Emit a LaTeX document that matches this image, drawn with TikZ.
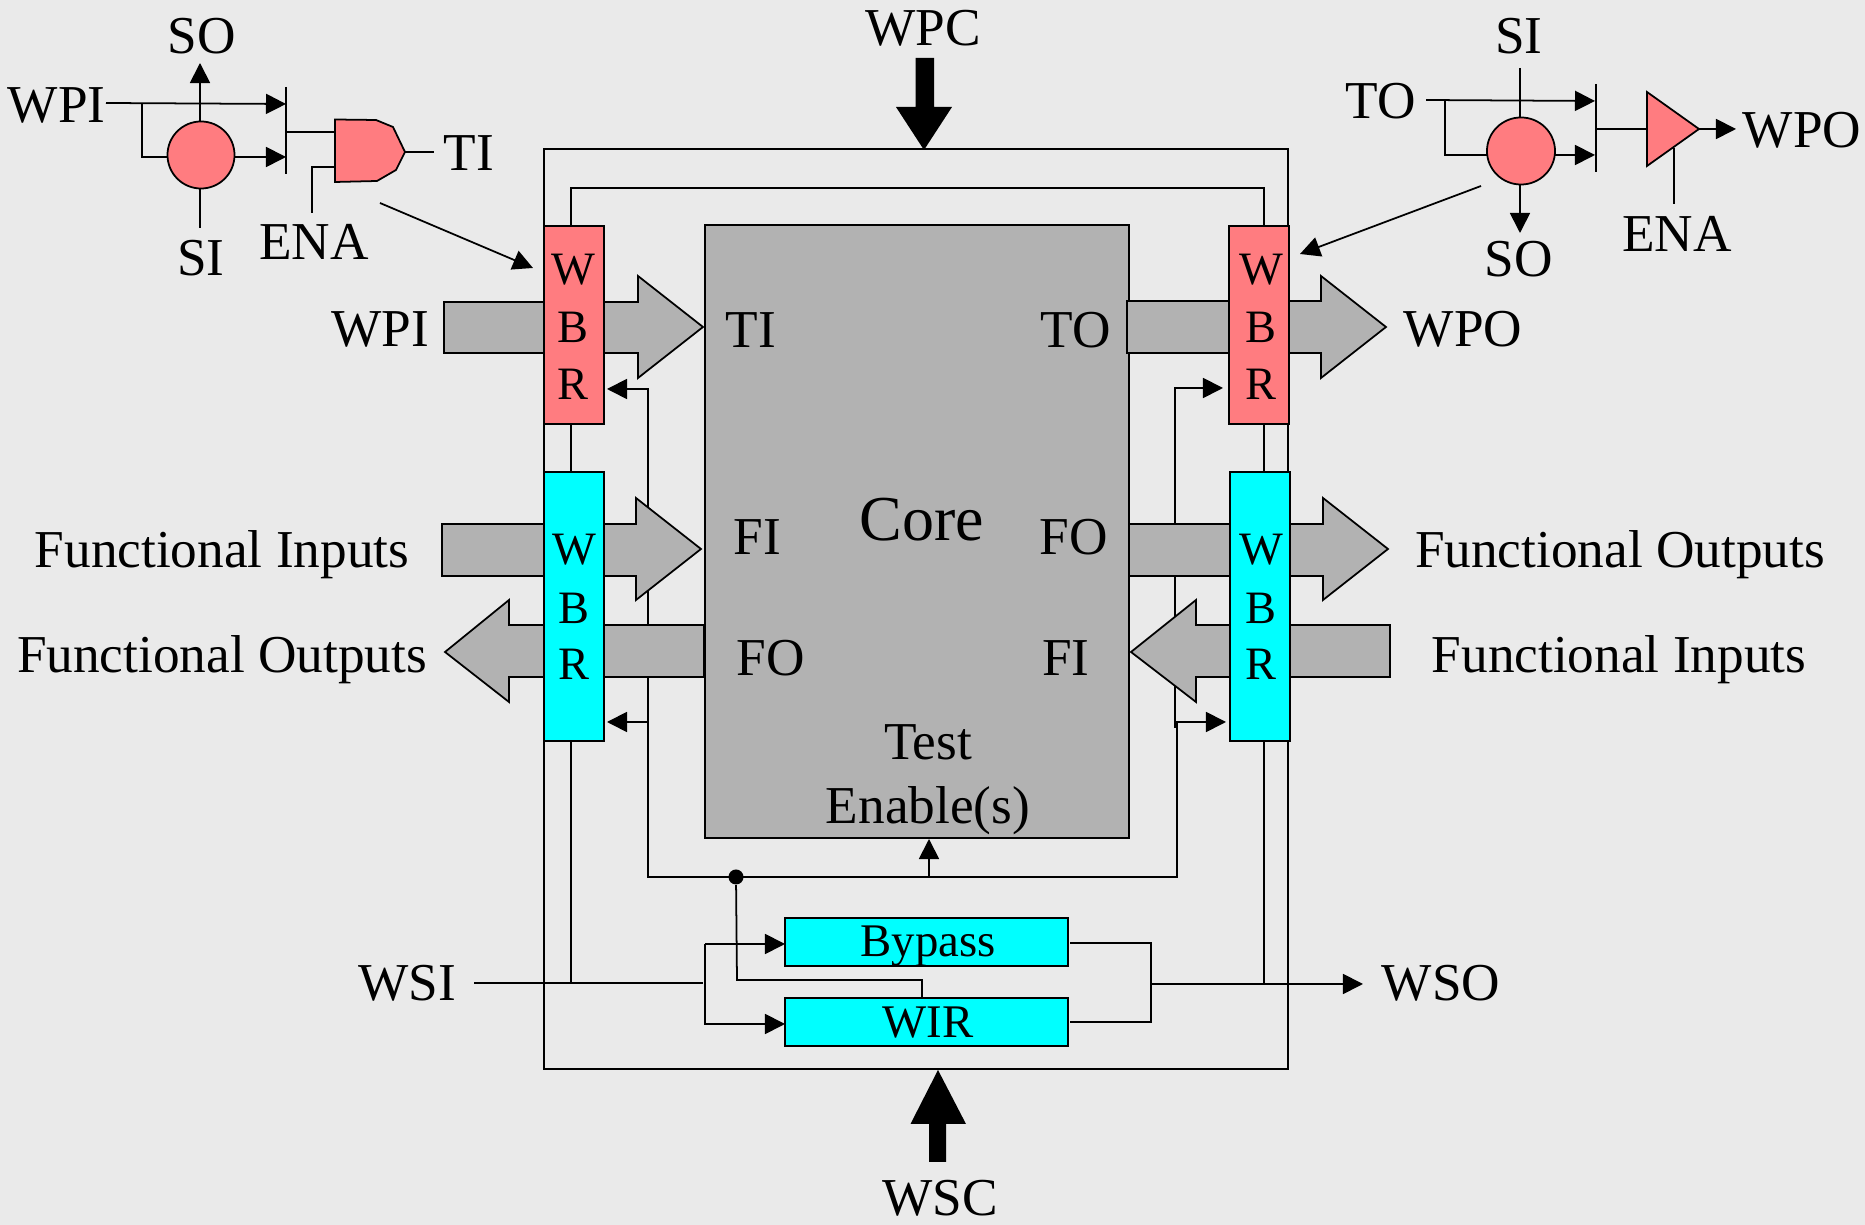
\documentclass[tikz,border=0pt]{standalone}
\usepackage{fontspec}
\setmainfont{Liberation Serif}
\usetikzlibrary{arrows.meta,shapes.geometric}
\definecolor{bgc}{HTML}{EAEAEA}
\definecolor{pinkc}{HTML}{FF7C80}
\definecolor{cyanc}{HTML}{00FFFF}
\definecolor{greyc}{HTML}{B2B2B2}
\tikzset{
  wire/.style={draw=black,line width=0.5pt,line join=miter},
  sig/.style={wire,-{Triangle[length=0.2cm,width=0.2cm]}},
  blockarrow/.style={draw=black,line width=0.5pt,fill=greyc,line join=miter},
  fatarrow/.style={fill=black,draw=none},
  gatefill/.style={draw=black,line width=0.5pt,fill=pinkc,line join=round},
  txt/.style={inner sep=0pt,outer sep=0pt,anchor=base,font=\fontsize{15.15}{18}\selectfont},
  boxn/.style={draw=black,line width=0.6pt,inner sep=0pt,outer sep=0pt,anchor=north west},
  wbrlabel/.style={txt,font=\fontsize{13.2}{16}\selectfont},
  wbr/.style={boxn,minimum width=0.6cm},
  smallbox/.style={boxn,fill=cyanc,minimum width=2.83cm,minimum height=0.48cm},
  dotn/.style={circle,fill=black,inner sep=0pt,minimum size=0.15cm}
}
\begin{document}
\begin{tikzpicture}[x=0.01cm,y=-0.01cm]
\useasboundingbox[fill=bgc] (0,0) rectangle (1865,1225);

% ---- wrapper frame and rails
\coordinate (ftl) at (544,149); \coordinate (fbr) at (1288,1069);
\draw[wire] (ftl) rectangle (fbr);
\coordinate (railLtop) at (571,188); \coordinate (railRtop) at (1264,188);
\coordinate (railLbot) at (571,983); \coordinate (railRbot) at (1264,984);
\draw[wire] (571,240) -- (railLtop) -- (railRtop) -- (1264,240);
\draw[wire] (571,420) -- (railLbot);
\draw[wire] (1264,420) -- (railRbot);

% ---- core
\node[boxn,fill=greyc,minimum width=4.24cm,minimum height=6.13cm] (core) at (705,225) {};

% ---- test enable distribution
\coordinate (tL) at (648,877); \coordinate (tR) at (1177,877);
\coordinate (wL1) at (648,389); \coordinate (wL1b) at (648,730);
\coordinate (wL2) at (648,722);
\coordinate (wR1) at (1175,388); \coordinate (wR1b) at (1175,728);
\coordinate (wR2) at (1177,722);
\coordinate (aL1) at (607,389); \coordinate (aL2) at (607,722);
\coordinate (aR1) at (1223,388); \coordinate (aR2) at (1226,722);
\draw[sig] (wL1b) -- (wL1) -- (aL1);
\draw[sig] (tR) -- (tL) -- (wL2) -- (aL2);
\draw[sig] (wR1b) -- (wR1) -- (aR1);
\draw[sig] (tL) -- (tR) -- (wR2) -- (aR2);
\coordinate (teB) at (929,877); \coordinate (teT) at (929,839);
\draw[sig] (teB) -- (teT);

% ---- grey block arrows
\path[blockarrow] (444,302) -- (638,302) -- (638,276) -- (703,327) -- (638,378) -- (638,353) -- (444,353) -- cycle;
\path[blockarrow] (442,524) -- (636,524) -- (636,498) -- (701,549) -- (636,600) -- (636,576) -- (442,576) -- cycle;
\path[blockarrow] (704,625) -- (509,625) -- (509,600) -- (445,652) -- (509,702) -- (509,677) -- (704,677) -- cycle;
\path[blockarrow] (1127,301) -- (1321,301) -- (1321,276) -- (1386,327) -- (1321,378) -- (1321,353) -- (1127,353) -- cycle;
\path[blockarrow] (1129,524) -- (1323,524) -- (1323,498) -- (1388,549) -- (1323,600) -- (1323,576) -- (1129,576) -- cycle;
\path[blockarrow] (1390,625) -- (1196,625) -- (1196,600) -- (1131,652) -- (1196,702) -- (1196,677) -- (1390,677) -- cycle;

% ---- boundary registers
\node[wbr,fill=pinkc,minimum height=1.98cm] (wbrA) at (544,226) {};
\node[wbr,fill=pinkc,minimum height=1.98cm] (wbrB) at (1229,226) {};
\node[wbr,fill=cyanc,minimum height=2.69cm] (wbrC) at (544,472) {};
\node[wbr,fill=cyanc,minimum height=2.69cm] (wbrD) at (1230,472) {};
\node[wbrlabel] (a1) at (573,285) {W};
\node[wbrlabel] (a2) at (573,343) {B};
\node[wbrlabel] (a3) at (573,400) {R};
\node[wbrlabel] (b1) at (1261,285) {W};
\node[wbrlabel] (b2) at (1261,343) {B};
\node[wbrlabel] (b3) at (1261,400) {R};
\node[wbrlabel] (c1l) at (574,565) {W};
\node[wbrlabel] (c2l) at (574,624) {B};
\node[wbrlabel] (c3l) at (574,680) {R};
\node[wbrlabel] (d1) at (1261,565) {W};
\node[wbrlabel] (d2) at (1261,624) {B};
\node[wbrlabel] (d3) at (1261,680) {R};

% ---- WPC / WSC
\path[fatarrow] (915.5,58) -- (934,58) -- (934,107) -- (952,107) -- (924,150) -- (896,107) -- (915.5,107) -- cycle;
\path[fatarrow] (929,1162) -- (946,1162) -- (946,1124) -- (966,1124) -- (938,1070) -- (910.5,1124) -- (929,1124) -- cycle;

% ---- bypass / WIR
\node[smallbox] (byp) at (785,918) {};
\node[smallbox] (wir) at (785,998) {};
\node[wbrlabel,font=\fontsize{13.3}{16}\selectfont] (bypt) at (928,956.5) {Bypass};
\node[wbrlabel,font=\fontsize{13.3}{16}\selectfont] (wirt) at (928,1038) {WIR};
\node[dotn] (dot) at (736,877) {};
\coordinate (c1) at (737,980); \coordinate (c2) at (922,980); \coordinate (c3) at (922,998);
\draw[wire] (dot) -- (c1) -- (c2) -- (c3);
\coordinate (wsiA) at (474,983); \coordinate (wsiB) at (703,983);
\draw[wire] (wsiA) -- (wsiB);
\coordinate (brT) at (705,944); \coordinate (brB) at (705,1024);
\draw[sig] (brT) -- (byp.west |- brT);
\draw[sig] (brT) -- (brB) -- (wir.west |- brB);
\coordinate (oA) at (1070,943); \coordinate (oB) at (1151,943);
\coordinate (oC) at (1151,1022); \coordinate (oD) at (1070,1022);
\draw[wire] (oA) -- (oB) -- (oC) -- (oD);
\coordinate (wsoA) at (1152,984); \coordinate (wsoB) at (1363,984);
\draw[sig] (wsoA) -- (wsoB);

% ---- left detail circuit
\node[circle,gatefill,inner sep=0pt,minimum size=0.67cm] (lc) at (201,155) {};
\coordinate (lcIn) at (168,157); \coordinate (lcOut) at (235,157);
\coordinate (lwA) at (106,103); \coordinate (lwB) at (286,104); \coordinate (lwC) at (142,103);
\coordinate (lbarT) at (286,87); \coordinate (lbarB) at (286,174);
\draw[sig] (lwA) -- (lwB);
\draw[wire] (lwC) -- (lwC |- lcIn) -- (lcIn);
\draw[sig] (lcOut) -- (286,157);
\draw[wire] (lbarT) -- (lbarB);
\draw[sig] (200,121) -- (200,63);
\draw[wire] (200,188) -- (200,228);
\path[gatefill,line join=miter] (335,119.5) -- (376,120) -- (393,127) -- (405,152) -- (396,170) -- (377,181) -- (335,182) -- cycle;
\draw[wire] (286,132) -- (335,132);
\draw[wire] (405,152) -- (434,152);
\draw[wire] (335,167) -- (312,167) -- (312,213);
\draw[sig] (380,203) -- (533,268);

% ---- right detail circuit
\node[ellipse,gatefill,inner sep=0pt,minimum width=0.68cm,minimum height=0.67cm] (rc) at (1521,151) {};
\coordinate (rwA) at (1426,100); \coordinate (rwB) at (1595,101); \coordinate (rwC) at (1445,100);
\coordinate (rcIn) at (1487,155); \coordinate (rcOut) at (1555,155);
\draw[wire] (1520,68) -- (1520,117);
\draw[sig] (rwA) -- (rwB);
\draw[wire] (rwC) -- (rwC |- rcIn) -- (rcIn);
\draw[sig] (rcOut) -- (1595,155);
\draw[wire] (1596,84) -- (1596,172);
\draw[wire] (1596,129) -- (1647,129);
\path[gatefill,line join=miter] (1647,92) -- (1699,129) -- (1647,166) -- cycle;
\draw[sig] (1699,129) -- (1736,129);
\draw[wire] (1674,148) -- (1674,204);
\draw[sig] (1520,185) -- (1520,233);
\draw[sig] (1481,186) -- (1300,254);

% ---- labels
\node[txt] (l1) at (202,54) {SO};
\node[txt,anchor=base west] (l2) at (8,122.5) {WPI};
\node[txt] (l3) at (201,276) {SI};
\node[txt] (l4) at (314,260) {ENA};
\node[txt] (l5) at (469,171) {TI};
\node[txt] (l6) at (1519,54) {SI};
\node[txt] (l7) at (1381,119) {TO};
\node[txt] (l8) at (1802,148) {WPO};
\node[txt] (l9) at (1677,252) {ENA};
\node[txt] (l10) at (1519,277) {SO};
\node[txt] (l11) at (923,46) {WPC};
\node[txt] (l12) at (940,1216) {WSC};
\node[txt] (l13) at (380,347) {WPI};
\node[txt] (l14) at (222,568) {Functional Inputs};
\node[txt] (l15) at (222,673) {Functional Outputs};
\node[txt] (l16) at (751,348) {TI};
\node[txt] (l17) at (757.5,555) {FI};
\node[txt] (l18) at (770.5,676) {FO};
\node[txt,font=\fontsize{18.2}{22}\selectfont] (l19) at (922,541) {Core};
\node[txt] (l20) at (1075.5,348) {TO};
\node[txt] (l21) at (1074,555) {FO};
\node[txt] (l22) at (1066,676) {FI};
\node[txt] (l23) at (928,759.5) {Test};
\node[txt] (l24) at (928,823.5) {Enable(s)};
\node[txt] (l25) at (1463,347) {WPO};
\node[txt] (l26) at (1620,568) {Functional Outputs};
\node[txt] (l27) at (1619,673) {Functional Inputs};
\node[txt] (l28) at (407,1001) {WSI};
\node[txt] (l29) at (1441,1001) {WSO};
\end{tikzpicture}
\end{document}
